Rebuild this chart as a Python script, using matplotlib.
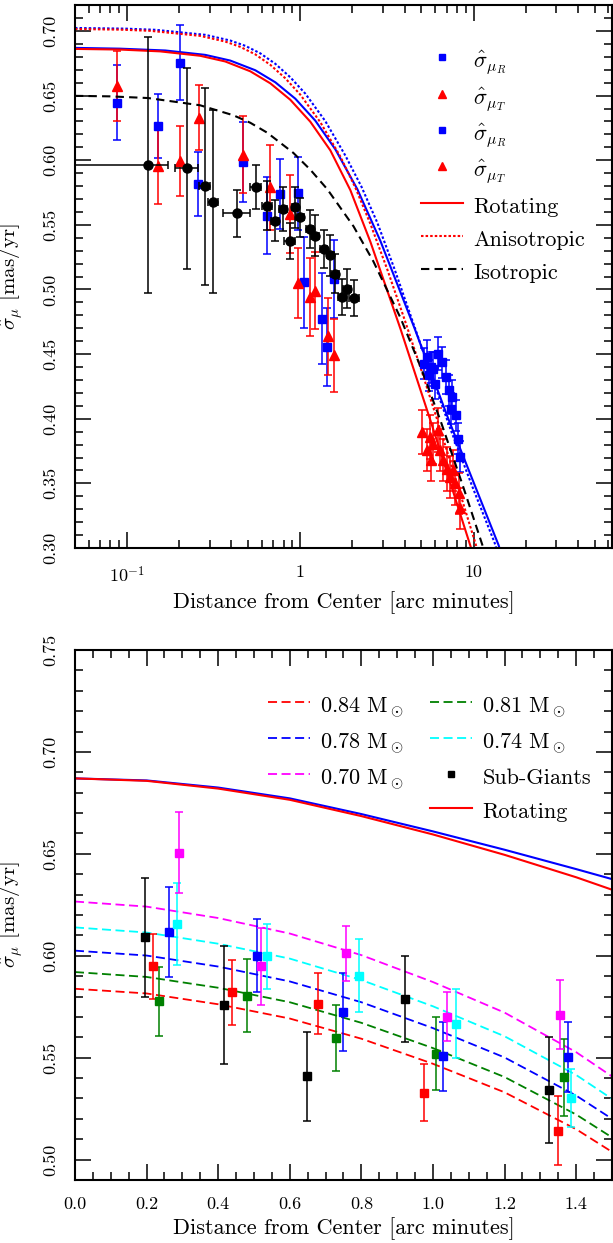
import matplotlib
matplotlib.use('Agg')
import matplotlib.pyplot as plt
from matplotlib.lines import Line2D
from matplotlib.ticker import FixedLocator, FixedFormatter, MultipleLocator, LogLocator, FormatStrFormatter
import numpy as np

plt.rcParams['font.family'] = ['cmr10', 'DejaVu Serif']
plt.rcParams['mathtext.fontset'] = 'cm'
plt.rcParams['axes.formatter.use_mathtext'] = True

# ── top panel: dispersion profile (log radius) ──
# inner field, radial component
in_r_x = [0.0875, 0.151, 0.202, 0.258, 0.466, 0.642, 0.766, 0.965, 1.045, 1.335, 1.426, 1.558]
in_r_y = [0.6446, 0.6266, 0.6755, 0.5816, 0.5988, 0.5571, 0.5739, 0.5744, 0.5056, 0.4774, 0.4554, 0.5083]
in_r_e = [0.029, 0.025, 0.029, 0.025, 0.031, 0.030, 0.027, 0.028, 0.035, 0.035, 0.030, 0.030]
# inner field, tangential component
in_t_x = [0.0875, 0.151, 0.202, 0.261, 0.466, 0.665, 0.875, 0.965, 1.132, 1.22, 1.44, 1.572]
in_t_y = [0.6575, 0.5952, 0.5991, 0.633, 0.6043, 0.579, 0.5585, 0.5049, 0.494, 0.4992, 0.4637, 0.449]
in_t_e = [0.027, 0.029, 0.027, 0.025, 0.030, 0.033, 0.030, 0.027, 0.030, 0.030, 0.030, 0.028]
# outer field
out_r_x = [5.16, 5.39, 5.55, 5.7, 5.85, 6.0, 6.25, 6.6, 6.9, 7.2, 7.4, 7.55, 7.9, 8.1, 8.4]
out_r_y = [0.4426, 0.4477, 0.4336, 0.440, 0.4387, 0.4272, 0.4504, 0.4439, 0.4323, 0.422, 0.4079,
           0.4168, 0.4027, 0.3847, 0.3705]
out_r_e = [0.012, 0.013, 0.012, 0.012, 0.013, 0.012, 0.013, 0.012, 0.013, 0.012, 0.012, 0.013,
           0.012, 0.012, 0.012]
out_t_x = [5.05, 5.39, 5.6, 5.7, 5.85, 6.25, 6.4, 6.7, 7.0, 7.3, 7.6, 7.8, 8.2, 8.4]
out_t_y = [0.3898, 0.3757, 0.386, 0.368, 0.3808, 0.3911, 0.3757, 0.368, 0.3615, 0.355, 0.3602,
           0.350, 0.3422, 0.3306]
out_t_e = [0.017, 0.016, 0.017, 0.016, 0.016, 0.017, 0.016, 0.016, 0.017, 0.016, 0.016, 0.017,
           0.016, 0.016]
# combined (black)
blk_x = [0.132, 0.223, 0.281, 0.315, 0.43, 0.555, 0.642, 0.717, 0.794, 0.867, 0.936, 1.0,
         1.132, 1.22, 1.364, 1.49, 1.59, 1.74, 1.86, 2.05]
blk_y = [0.5965, 0.5937, 0.5798, 0.568, 0.5589, 0.579, 0.5649, 0.5533, 0.5623, 0.5378, 0.5636,
         0.5558, 0.5468, 0.5417, 0.5314, 0.5263, 0.5121, 0.494, 0.5005, 0.4933]
blk_ye = [0.099, 0.078, 0.076, 0.071, 0.018, 0.017, 0.019, 0.016, 0.017, 0.014, 0.016, 0.015,
          0.015, 0.016, 0.015, 0.016, 0.015, 0.014, 0.015, 0.014]
blk_xlo = [0.129, 0.034, 0.02, 0.02, 0.07, 0.04, 0.04, 0.04, 0.04, 0.06, 0.04, 0.05,
           0.05, 0.06, 0.07, 0.07, 0.08, 0.09, 0.1, 0.13]
blk_xhi = [0.04, 0.035, 0.02, 0.02, 0.08, 0.04, 0.04, 0.04, 0.04, 0.06, 0.04, 0.05,
           0.05, 0.06, 0.07, 0.07, 0.08, 0.09, 0.1, 0.14]

# model curves
rot_r_x = [0.05, 0.0911, 0.1551, 0.264, 0.3685, 0.514, 0.671, 0.875, 1.142, 1.491, 1.946, 2.54,
           3.79, 5.64, 9.61, 10.98]
rot_r_y = [0.6861, 0.6856, 0.6842, 0.6808, 0.6764, 0.6688, 0.6595, 0.6468, 0.6298, 0.6076, 0.5768,
           0.5368, 0.4694, 0.3987, 0.3014, 0.2765]
rot_b_x = [0.05, 0.0911, 0.1659, 0.2824, 0.3939, 0.5495, 0.717, 0.9357, 1.2208, 1.5936, 2.136,
           2.901, 4.56, 7.17, 13.95, 15.94]
rot_b_y = [0.6869, 0.6863, 0.6849, 0.6815, 0.6771, 0.6696, 0.6603, 0.6476, 0.6306, 0.6084, 0.5775,
           0.5375, 0.4702, 0.3996, 0.3023, 0.2776]
ani_r_x = [0.05, 0.0911, 0.136, 0.264, 0.3685, 0.45, 0.5495, 0.671, 0.8189, 1.0, 1.305, 1.703,
           2.079, 2.54, 3.184, 4.04, 5.073, 6.45, 8.19, 10.27, 11.73]
ani_r_y = [0.7015, 0.7010, 0.7001, 0.6962, 0.6918, 0.6877, 0.6819, 0.6738, 0.6634, 0.6507, 0.6294,
           0.6028, 0.5788, 0.5507, 0.5152, 0.4750, 0.4350, 0.3912, 0.3464, 0.3034, 0.2779]
ani_b_x = [0.05, 0.0974, 0.1451, 0.2824, 0.3939, 0.481, 0.5872, 0.717, 0.875, 1.069, 1.395, 1.82,
           2.253, 2.787, 3.494, 4.44, 5.641, 7.36, 9.867, 13.23, 15.11]
ani_b_y = [0.7023, 0.7018, 0.7009, 0.6970, 0.6926, 0.6885, 0.6827, 0.6746, 0.6642, 0.6515, 0.6302,
           0.6036, 0.5796, 0.5515, 0.5160, 0.4758, 0.4358, 0.3920, 0.3472, 0.3042, 0.2787]
iso_x = [0.05, 0.0797, 0.1323, 0.264, 0.41, 0.514, 0.644, 0.911, 1.142, 1.433, 2.03, 2.64, 3.79,
         4.94, 6.45, 8.64, 11.42, 13.05]
iso_y = [0.6498, 0.6494, 0.6481, 0.6425, 0.6348, 0.6290, 0.6213, 0.6057, 0.5927, 0.5775, 0.5488,
         0.5218, 0.4780, 0.4404, 0.3985, 0.3490, 0.2997, 0.2758]

# ── bottom panel: mass groups (linear radius) ──
model_r = [0.0, 0.2, 0.4, 0.6, 0.8, 1.0, 1.2, 1.4, 1.5]
m084 = [0.5838, 0.5815, 0.5762, 0.5692, 0.5593, 0.5470, 0.5330, 0.5149, 0.5038]
m081 = [0.5920, 0.5896, 0.5843, 0.5772, 0.5671, 0.5547, 0.5405, 0.5221, 0.5109]
m078 = [0.6025, 0.6001, 0.5947, 0.5874, 0.5772, 0.5645, 0.5501, 0.5314, 0.5200]
m074 = [0.6139, 0.6114, 0.6059, 0.5986, 0.5881, 0.5752, 0.5605, 0.5415, 0.5298]
m070 = [0.6266, 0.6241, 0.6185, 0.6109, 0.6003, 0.5871, 0.5721, 0.5527, 0.5408]
rot2_b = [0.687, 0.686, 0.6825, 0.6772, 0.6695, 0.661, 0.652, 0.6425, 0.6376]
rot2_r = [0.687, 0.6858, 0.682, 0.6765, 0.6685, 0.6595, 0.6495, 0.6385, 0.6324]

pts = {
    'red':     ([0.2188, 0.4376, 0.6797, 0.9749, 1.348], [0.5948, 0.582, 0.5765, 0.5327, 0.5142],
                [0.016, 0.016, 0.015, 0.014, 0.017]),
    'green':   ([0.2356, 0.4814, 0.729, 1.0084, 1.365], [0.5776, 0.5804, 0.5597, 0.552, 0.5404],
                [0.017, 0.018, 0.016, 0.018, 0.019]),
    'blue':    ([0.2635, 0.5075, 0.7495, 1.0288, 1.376], [0.6116, 0.600, 0.5724, 0.5506, 0.5503],
                [0.022, 0.018, 0.019, 0.017, 0.017]),
    'cyan':    ([0.284, 0.5372, 0.794, 1.064, 1.385], [0.6157, 0.5997, 0.5902, 0.5667, 0.5302],
                [0.020, 0.016, 0.018, 0.017, 0.014]),
    'magenta': ([0.2914, 0.5195, 0.757, 1.038, 1.3556], [0.6506, 0.5948, 0.6013, 0.570, 0.5711],
                [0.020, 0.019, 0.0135, 0.012, 0.017]),
    'black':   ([0.1955, 0.4171, 0.649, 0.9218, 1.325], [0.609, 0.576, 0.5408, 0.5789, 0.534],
                [0.029, 0.029, 0.022, 0.021, 0.026]),
}

fig = plt.figure(figsize=(6.13, 12.43), dpi=100)
ax1 = fig.add_axes([0.1223, 0.5591, 0.876, 0.4368])
ax2 = fig.add_axes([0.1223, 0.0507, 0.876, 0.4264])

eb = dict(ls='none', capsize=3, elinewidth=1.1, capthick=1.1)

# top
ax1.errorbar(blk_x, blk_y, yerr=blk_ye, xerr=[blk_xlo, blk_xhi], fmt='o', color='black', ms=6.5, zorder=3, **eb)
ax1.errorbar(in_r_x, in_r_y, yerr=in_r_e, fmt='s', color='blue', ms=6.3, zorder=2, **eb)
ax1.errorbar(in_t_x, in_t_y, yerr=in_t_e, fmt='^', color='red', ms=7, zorder=2, **eb)
ax1.errorbar(out_r_x, out_r_y, yerr=out_r_e, fmt='s', color='blue', ms=6.3, zorder=2, **eb)
ax1.errorbar(out_t_x, out_t_y, yerr=out_t_e, fmt='^', color='red', ms=7, zorder=2, **eb)

ax1.plot(rot_b_x, rot_b_y, color='blue', lw=1.5)
ax1.plot(rot_r_x, rot_r_y, color='red', lw=1.5)
ax1.plot(ani_b_x, ani_b_y, color='blue', lw=1.5, dashes=(1.2, 1))
ax1.plot(ani_r_x, ani_r_y, color='red', lw=1.5, dashes=(1.2, 1))
ax1.plot(iso_x, iso_y, color='black', lw=1.5, dashes=(4, 2.5))

ax1.set_xscale('log')
ax1.set_xlim(0.05, 63)
ax1.set_ylim(0.30, 0.72)
ax1.xaxis.set_major_locator(FixedLocator([0.1, 1, 10]))
ax1.xaxis.set_major_formatter(FixedFormatter([r'$10^{-1}$', '1', '10']))
ax1.xaxis.set_minor_locator(LogLocator(base=10, subs=np.arange(2, 10), numticks=20))
ax1.yaxis.set_major_locator(MultipleLocator(0.05))
ax1.yaxis.set_minor_locator(MultipleLocator(0.01))
ax1.yaxis.set_major_formatter(FormatStrFormatter('%.2f'))
ax1.set_xlabel('Distance from Center [arc minutes]', fontsize=16)
ax1.set_ylabel(r'$\hat{\sigma}_\mu$ [mas/yr]', fontsize=15)

handles1 = [
    Line2D([], [], color='blue', marker='s', ls='none', ms=5),
    Line2D([], [], color='red', marker='^', ls='none', ms=5.5),
    Line2D([], [], color='blue', marker='s', ls='none', ms=5),
    Line2D([], [], color='red', marker='^', ls='none', ms=5.5),
    Line2D([], [], color='red', lw=1.5),
    Line2D([], [], color='red', lw=1.5, dashes=(1.2, 1)),
    Line2D([], [], color='black', lw=1.5, dashes=(4, 2.5)),
]
labels1 = [r'$\hat{\sigma}_{\mu_R}$', r'$\hat{\sigma}_{\mu_T}$', r'$\hat{\sigma}_{\mu_R}$',
           r'$\hat{\sigma}_{\mu_T}$', 'Rotating', 'Anisotropic', 'Isotropic']
ax1.legend(handles1, labels1, loc='upper left', bbox_to_anchor=(0.615, 0.951), frameon=False,
           fontsize=16, handlelength=1.9, handletextpad=0.45, handleheight=1.4,
           labelspacing=0.33, borderpad=0.2)

# bottom
for r_vals, col in [(m084, 'red'), (m081, 'green'), (m078, 'blue'), (m074, 'cyan'), (m070, 'magenta')]:
    ax2.plot(model_r, r_vals, color=col, lw=1.3, dashes=(5, 2.5))
ax2.plot(model_r, rot2_b, color='blue', lw=1.5)
ax2.plot(model_r, rot2_r, color='red', lw=1.5)
for col, (xs, ys, es) in pts.items():
    ax2.errorbar(xs, ys, yerr=es, fmt='s', color=col, ms=6.3, zorder=3, **eb)

ax2.set_xlim(0, 1.5)
ax2.set_ylim(0.49, 0.75)
ax2.xaxis.set_major_locator(MultipleLocator(0.2))
ax2.xaxis.set_minor_locator(MultipleLocator(0.05))
ax2.yaxis.set_major_locator(MultipleLocator(0.05))
ax2.yaxis.set_minor_locator(MultipleLocator(0.01))
ax2.xaxis.set_major_formatter(FormatStrFormatter('%.1f'))
ax2.yaxis.set_major_formatter(FormatStrFormatter('%.2f'))
ax2.set_xlabel('Distance from Center [arc minutes]', fontsize=16)
ax2.set_ylabel(r'$\hat{\sigma}_\mu$ [mas/yr]', fontsize=15)

dash = dict(lw=1.3, dashes=(5, 2.5))
handles2 = [
    Line2D([], [], color='red', **dash),
    Line2D([], [], color='blue', **dash),
    Line2D([], [], color='magenta', **dash),
    Line2D([], [], color='none'),
    Line2D([], [], color='green', **dash),
    Line2D([], [], color='cyan', **dash),
    Line2D([], [], color='black', marker='s', ls='none', ms=5),
    Line2D([], [], color='red', lw=1.5),
]
labels2 = [r'0.84 M$_\odot$', r'0.78 M$_\odot$', r'0.70 M$_\odot$', '',
           r'0.81 M$_\odot$', r'0.74 M$_\odot$', 'Sub-Giants', 'Rotating']
ax2.legend(handles2, labels2, ncol=2, loc='upper left', bbox_to_anchor=(0.33, 0.95), frameon=False,
           fontsize=16, handlelength=1.9, handletextpad=0.45, handleheight=1.4, labelspacing=0.37,
           columnspacing=1.17, borderpad=0.2)

for ax in (ax1, ax2):
    for s in ax.spines.values():
        s.set_linewidth(1.5)
    ax.tick_params(which='both', direction='in', top=True, right=True, width=1.1)
    ax.tick_params(which='major', length=11.5, labelsize=13, pad=12)
    ax.tick_params(which='minor', length=5.5)
    ax.tick_params(axis='y', labelrotation=90)
    for lab in ax.get_yticklabels():
        lab.set_va('center')
    ax.yaxis.set_label_coords(-0.093, 0.5)

plt.savefig('out.png', dpi=100)
